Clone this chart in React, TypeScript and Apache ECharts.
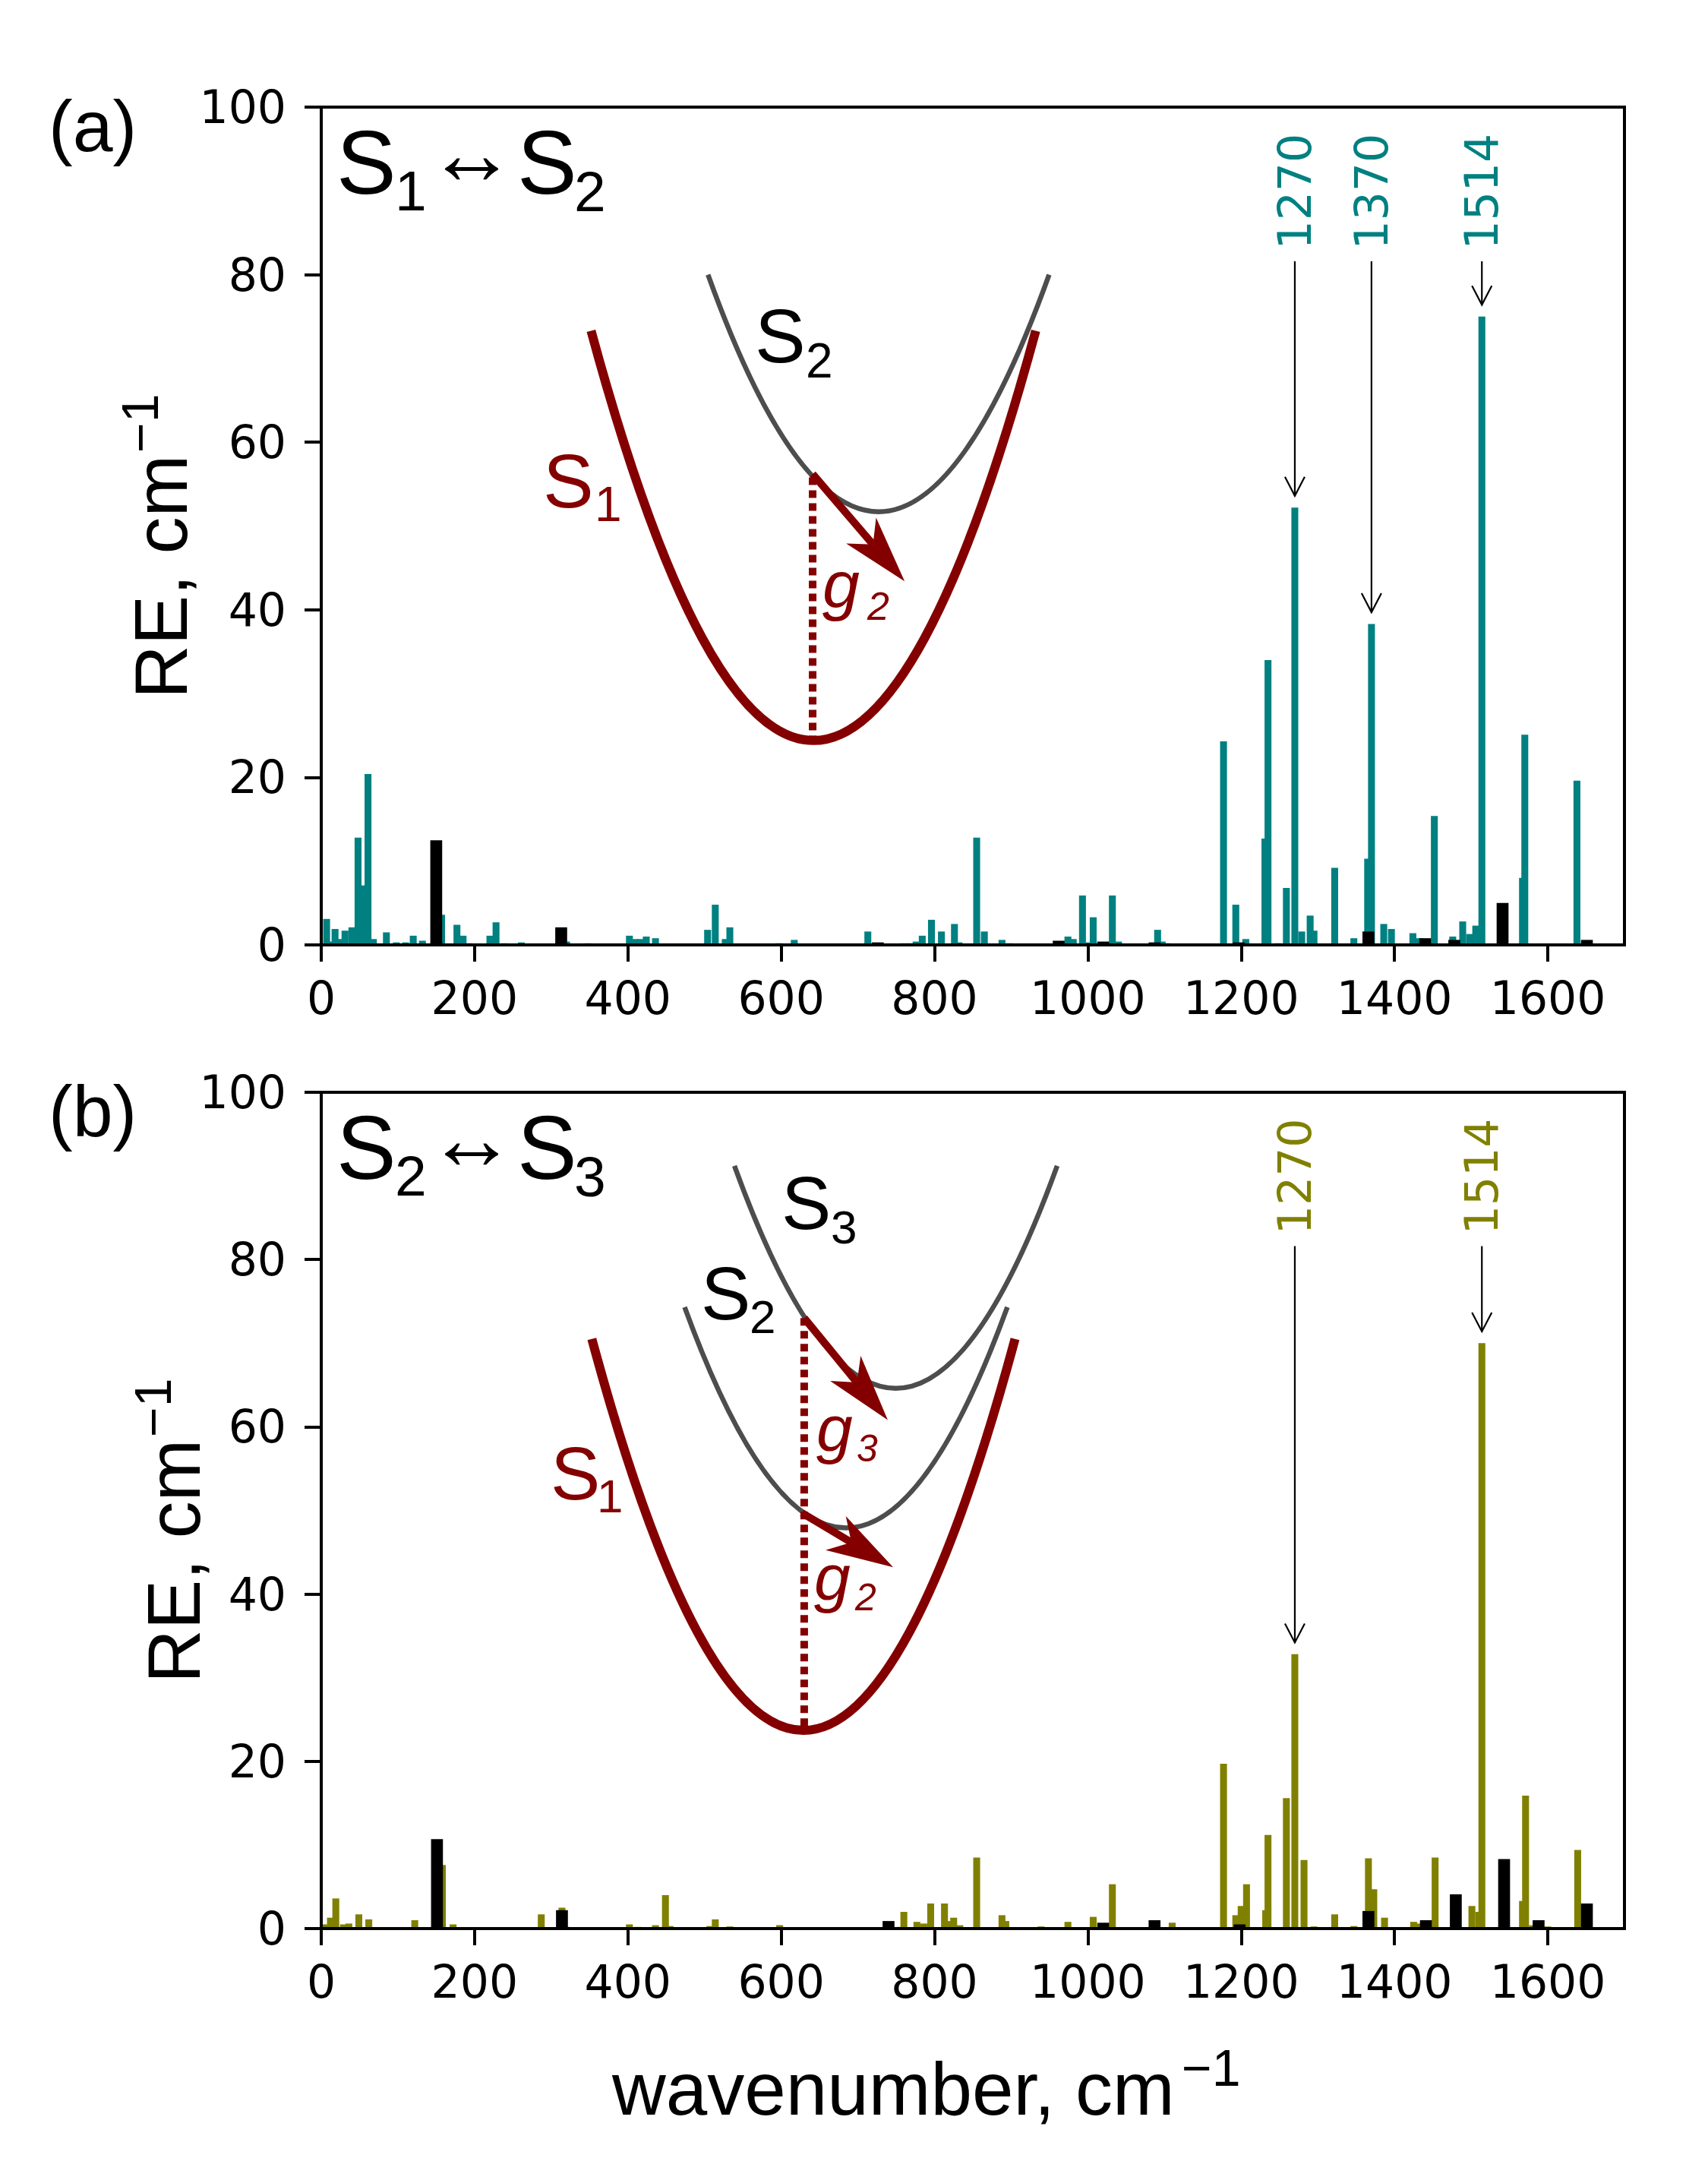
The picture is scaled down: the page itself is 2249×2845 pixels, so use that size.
import React, { useEffect, useRef } from 'react';
import * as echarts from 'echarts';

// ---------- data ----------
const xTicks = [0, 200, 400, 600, 800, 1000, 1200, 1400, 1600];
const yTicks = [0, 20, 40, 60, 80, 100];

// (a) S1<->S2 : coloured (teal) modes [wavenumber, RE]
const s12Modes: [number, number][] = [
  [7, 3.1], [13, 0.4], [18, 1.9], [24, 0.7], [31, 1.7], [40, 2.1], [48, 12.8], [55, 7.1], [61, 20.4], [68, 0.7],
  [85, 1.5], [98, 0.3], [110, 0.3], [120, 1.1], [132, 0.5], [157, 3.6], [177, 2.4], [185, 1.1], [193, 0.2],
  [220, 1.1], [228, 2.7], [239, 0.2], [261, 0.3], [320, 0.4], [348, 0.2], [402, 1.1], [410, 0.7], [416, 0.7],
  [424, 1.0], [436, 0.8], [504, 1.8], [514, 4.8], [527, 0.7], [533, 2.1], [597, 0.2], [617, 0.6], [713, 1.6],
  [760, 0.2], [768, 0.2], [776, 0.4], [784, 1.1], [796, 3.0], [809, 1.6], [826, 2.5], [832, 0.3], [855, 12.8],
  [865, 1.6], [888, 0.6], [898, 0.2], [974, 1.0], [981, 0.7], [993, 5.9], [999, 0.3], [1007, 3.3], [1032, 5.9],
  [1040, 0.4], [1091, 1.8], [1097, 0.4], [1103, 0.2], [1177, 24.3], [1193, 4.8], [1206, 0.7], [1231, 12.7],
  [1235, 34.0], [1248, 0.2], [1259, 6.8], [1270, 52.2], [1279, 1.6], [1290, 3.5], [1295, 1.7], [1322, 9.2],
  [1347, 0.8], [1365, 10.3], [1370, 38.3], [1386, 2.5], [1396, 1.9], [1424, 1.4], [1432, 0.8], [1452, 15.4],
  [1476, 1.0], [1489, 2.8], [1498, 1.3], [1506, 2.3], [1514, 75.0], [1567, 8.0], [1570, 25.1], [1638, 19.6],
];
// (a) black modes
const s12Black: [number, number][] = [
  [150, 12.5], [313, 2.1], [726, 0.3], [962, 0.5], [1020, 0.4], [1087, 0.3], [1197, 0.3], [1366, 1.6],
  [1440, 0.8], [1478, 0.6], [1541, 5.0], [1651, 0.6],
];
// (b) S2<->S3 : coloured (olive) modes
const s23Modes: [number, number][] = [
  [6, 0.5], [12, 1.3], [19, 3.6], [29, 0.5], [36, 0.6], [49, 1.7], [62, 1.1], [122, 1.0], [130, 0.15],
  [158, 7.6], [172, 0.5], [228, 0.15], [287, 1.7], [314, 2.5], [320, 0.2], [402, 0.5], [413, 0.2], [422, 0.1],
  [436, 0.4], [449, 4.0], [455, 0.3], [507, 0.3], [514, 1.1], [533, 0.25], [598, 0.4], [755, 0.2], [760, 2.0],
  [777, 0.8], [786, 0.6], [795, 3.0], [813, 3.0], [818, 0.9], [825, 1.3], [833, 0.4], [855, 8.5], [888, 1.6],
  [893, 0.9], [939, 0.25], [958, 0.15], [974, 0.8], [980, 0.1], [1007, 1.4], [1032, 5.3], [1110, 0.7],
  [1177, 19.7], [1193, 1.6], [1200, 2.7], [1207, 5.3], [1232, 2.2], [1235, 11.2], [1259, 15.6], [1270, 32.8],
  [1282, 8.2], [1295, 0.25], [1322, 1.7], [1347, 0.3], [1366, 8.4], [1373, 4.7], [1387, 1.3], [1396, 0.1],
  [1425, 0.8], [1431, 0.6], [1453, 8.5], [1501, 2.7], [1510, 2.0], [1514, 70.0], [1567, 3.3], [1571, 15.9],
  [1580, 0.4], [1600, 0.25], [1639, 9.4],
];
// (b) black modes
const s23Black: [number, number][] = [
  [151, 10.7], [314, 2.2], [740, 0.9], [1020, 0.7], [1087, 1.0], [1198, 0.5], [1366, 2.1], [1441, 1.0],
  [1480, 4.1], [1543, 8.3], [1588, 1.0], [1651, 3.0],
];
const s12Marked = [1270, 1370, 1514];
const s23Marked = [1270, 1514];

// ---------- style / layout ----------
const W = 2249;
const H = 2845;
const TEAL = '#008080';
const OLIVE = '#808000';
const RED = '#840000';
const GRAY = '#4d4d4d';
const LABEL_FONT = '"Liberation Sans", Arial, sans-serif';
const TICK_FONT = '"DejaVu Sans", sans-serif';
const COLOR_BAR_W = 9;
const BLACK_BAR_W = 15.5;
const GRID_LEFT = 423;
const GRID_W = 1716;
const GRIDS = [
  { top: 141, height: 1103 },
  { top: 1438, height: 1101 },
];

type Curve = { h: number; k: number; half: number; top: number; color: string; width: number };
const diagramA = {
  curves: [
    { h: 727, k: 51.7, half: 222.5, top: 80.0, color: GRAY, width: 6.5 },
    { h: 642, k: 24.4, half: 290, top: 73.3, color: RED, width: 12 },
  ] as Curve[],
  drop: { x: 641, y1: 55.8, y2: 24.4 },
  arrows: [[641, 56.2, 761, 43.4]],
};
const diagramB = {
  curves: [
    { h: 749.5, k: 64.6, half: 210.5, top: 91.2, color: GRAY, width: 6.5 },
    { h: 684.5, k: 47.9, half: 210.5, top: 74.3, color: GRAY, width: 6.5 },
    { h: 629, k: 23.7, half: 276, top: 70.5, color: RED, width: 12 },
  ] as Curve[],
  drop: { x: 630, y1: 73.0, y2: 24.2 },
  arrows: [
    [630, 73.0, 739, 60.8],
    [627, 49.7, 746, 43.2],
  ],
};

function txt(x: number, base: number, s: string, size: number, color = '#000', italic = false, family = LABEL_FONT) {
  return {
    type: 'text',
    x,
    y: base - 0.347 * size,
    silent: true,
    z: 100,
    style: {
      text: s,
      font: `${italic ? 'italic ' : ''}${size}px ${family}`,
      fill: color,
      align: 'left',
      verticalAlign: 'middle',
      textAlign: 'left',
      textVerticalAlign: 'middle',
    },
  };
}

function barSeries(data: [number, number][], width: number, color: string, gi: number) {
  return {
    type: 'custom',
    xAxisIndex: gi,
    yAxisIndex: gi,
    data,
    silent: true,
    z: 2,
    encode: { x: 0, y: 1 },
    renderItem: (_p: any, api: any) => {
      const x = api.value(0);
      const h = api.value(1);
      const a = api.coord([x - width / 2, h]);
      const b = api.coord([x + width / 2, 0]);
      return {
        type: 'rect',
        shape: { x: a[0], y: a[1], width: b[0] - a[0], height: b[1] - a[1] },
        style: { fill: color },
      };
    },
  };
}

function fancyArrow(p0: number[], p1: number[], color: string) {
  const dx = p1[0] - p0[0];
  const dy = p1[1] - p0[1];
  const L = Math.hypot(dx, dy);
  const ux = dx / L, uy = dy / L;
  const nx = -uy, ny = ux;
  const HL = 88, NL = 64, HW = 26;
  const bx = p1[0] - ux * HL, by = p1[1] - uy * HL;
  const c1 = [bx + nx * HW, by + ny * HW];
  const c2 = [bx - nx * HW, by - ny * HW];
  const notch = [p1[0] - ux * NL, p1[1] - uy * NL];
  return [
    { type: 'line', z: 60, silent: true, shape: { x1: p0[0], y1: p0[1], x2: notch[0], y2: notch[1] }, style: { stroke: color, lineWidth: 10 } },
    { type: 'polygon', z: 61, silent: true, shape: { points: [p1, c1, notch, c2] }, style: { fill: color } },
  ];
}

function openArrow(p0: number[], p1: number[]) {
  const HL = 25, HW = 13;
  return [
    { type: 'line', z: 60, silent: true, shape: { x1: p0[0], y1: p0[1], x2: p1[0], y2: p1[1] }, style: { stroke: '#000', lineWidth: 2.2 } },
    {
      type: 'polyline', z: 60, silent: true,
      shape: { points: [[p1[0] - HW, p1[1] - HL], [p1[0], p1[1]], [p1[0] + HW, p1[1] - HL]] },
      style: { stroke: '#000', lineWidth: 2.2, fill: null },
    },
  ];
}

export default function App() {
  const ref = useRef<HTMLDivElement>(null);
  useEffect(() => {
    document.body.style.margin = '0';
    if (!ref.current) return;
    const chart = echarts.init(ref.current, undefined, { renderer: 'svg', width: W, height: H });

    const xAxes = [0, 1].map((i) => ({
      gridIndex: i,
      type: 'value',
      min: 0,
      max: 1700,
      interval: 200,
      z: 5,
      axisLine: { show: true, onZero: false, lineStyle: { color: '#000', width: 4 } },
      axisTick: { show: true, length: 22, lineStyle: { color: '#000', width: 4 }, customValues: xTicks },
      axisLabel: {
        customValues: xTicks,
        fontSize: 60,
        fontFamily: TICK_FONT,
        color: '#000',
        margin: 40,
        formatter: (v: number) => (v > 1650 ? '' : String(v)),
      },
      splitLine: { show: false },
    }));
    const yAxes = [0, 1].map((i) => ({
      gridIndex: i,
      type: 'value',
      min: 0,
      max: 100,
      interval: 20,
      z: 5,
      axisLine: { show: true, onZero: false, lineStyle: { color: '#000', width: 4 } },
      axisTick: { show: true, length: 22, lineStyle: { color: '#000', width: 4 }, customValues: yTicks },
      axisLabel: { customValues: yTicks, fontSize: 60, fontFamily: TICK_FONT, color: '#000', margin: 46 },
      splitLine: { show: false },
    }));

    chart.setOption({
      animation: false,
      backgroundColor: '#fff',
      grid: GRIDS.map((g) => ({
        left: GRID_LEFT, top: g.top, width: GRID_W, height: g.height,
        show: true, borderColor: '#000', borderWidth: 4, backgroundColor: 'transparent',
      })),
      xAxis: xAxes,
      yAxis: yAxes,
      series: [
        barSeries(s12Modes, COLOR_BAR_W, TEAL, 0),
        barSeries(s12Black, BLACK_BAR_W, '#000', 0),
        barSeries(s23Modes, COLOR_BAR_W, OLIVE, 1),
        barSeries(s23Black, BLACK_BAR_W, '#000', 1),
      ],
    });

    const P = (gi: number, x: number, y: number) => chart.convertToPixel({ gridIndex: gi } as any, [x, y]) as number[];
    const els: any[] = [];

    // diagrams
    const drawDiagram = (gi: number, d: typeof diagramA) => {
      d.curves.forEach((c) => {
        const a = P(gi, c.h - c.half, c.top);
        const b = P(gi, c.h + c.half, c.top);
        const cp = P(gi, c.h, 2 * c.k - c.top);
        els.push({
          type: 'bezierCurve', z: 50, silent: true,
          shape: { x1: a[0], y1: a[1], x2: b[0], y2: b[1], cpx1: cp[0], cpy1: cp[1] },
          style: { stroke: c.color, lineWidth: c.width, fill: null },
        });
      });
      const t0 = P(gi, d.drop.x, d.drop.y1);
      const t1 = P(gi, d.drop.x, d.drop.y2);
      els.push({
        type: 'line', z: 55, silent: true,
        shape: { x1: t0[0], y1: t0[1], x2: t1[0], y2: t1[1] },
        style: { stroke: RED, lineWidth: 10, lineDash: [10, 7] },
      });
      d.arrows.forEach((ar) => {
        els.push(...fancyArrow(P(gi, ar[0], ar[1]), P(gi, ar[2], ar[3]), RED));
      });
    };
    drawDiagram(0, diagramA);
    drawDiagram(1, diagramB);

    // peak annotations
    const annotate = (gi: number, marks: number[], modes: [number, number][], color: string) => {
      marks.forEach((m) => {
        const found = modes.find((d) => d[0] === m);
        const h = found ? found[1] : 0;
        const anchor = P(gi, m, 83);
        els.push({
          type: 'group', x: anchor[0], y: anchor[1], rotation: Math.PI / 2, silent: true, z: 70,
          children: [
            {
              type: 'text', x: 0, y: 0, z: 70,
              style: {
                text: String(m), font: `60px ${TICK_FONT}`, fill: color,
                align: 'left', verticalAlign: 'middle', textAlign: 'left', textVerticalAlign: 'middle',
              },
            },
          ],
        });
        els.push(...openArrow(P(gi, m, 81.6), P(gi, m, h + 1.4)));
      });
    };
    annotate(0, s12Marked, s12Modes, TEAL);
    annotate(1, s23Marked, s23Modes, OLIVE);

    // panel letters and titles
    const off = GRIDS[1].top - GRIDS[0].top;
    els.push(txt(64, 199, '(a)', 95));
    els.push(txt(64, 199 + off, '(b)', 95));
    const title = (dy: number, a: string, b: string) => {
      els.push(txt(443, 255 + dy, 'S', 118));
      els.push(txt(520, 277 + dy, a, 75));
      els.push(txt(562, 242 + dy, '↔', 118));
      els.push(txt(681, 255 + dy, 'S', 118));
      els.push(txt(756, 278 + dy, b, 75));
    };
    title(0, '1', '2');
    title(off, '2', '3');

    // diagram labels (a)
    els.push(txt(994, 477, 'S', 100));
    els.push(txt(1061, 497, '2', 64));
    els.push(txt(715, 668, 'S', 100, RED));
    els.push(txt(783, 686, '1', 64, RED));
    els.push(txt(1083, 800, 'g', 88, RED, true));
    els.push(txt(1142, 816, '2', 52, RED, true));
    // diagram labels (b)
    els.push(txt(1029, 1618, 'S', 98));
    els.push(txt(1094, 1637, '3', 62));
    els.push(txt(923, 1737, 'S', 98));
    els.push(txt(987, 1755, '2', 62));
    els.push(txt(725, 1974, 'S', 98, RED));
    els.push(txt(786, 1991, '1', 62, RED));
    els.push(txt(1075, 1910, 'g', 86, RED, true));
    els.push(txt(1128, 1924, '3', 50, RED, true));
    els.push(txt(1072, 2106, 'g', 86, RED, true));
    els.push(txt(1126, 2120, '2', 50, RED, true));

    // axis titles
    els.push(txt(806, 2784, 'wavenumber, cm', 98));
    els.push(txt(1556, 2746, '\u22121', 68));
    const yTitle = (x: number, y: number) => ({
      type: 'group', x, y, rotation: Math.PI / 2, silent: true, z: 100,
      children: [txt(0, 0, 'RE, cm', 98), txt(324, -38, '\u22121', 68)],
    });
    els.push(yTitle(246, 920));
    els.push(yTitle(263, 2216));

    chart.setOption({ graphic: { elements: els } });

    return () => {
      chart.dispose();
    };
  }, []);
  return <div ref={ref} style={{ width: W, height: H }} />;
}
